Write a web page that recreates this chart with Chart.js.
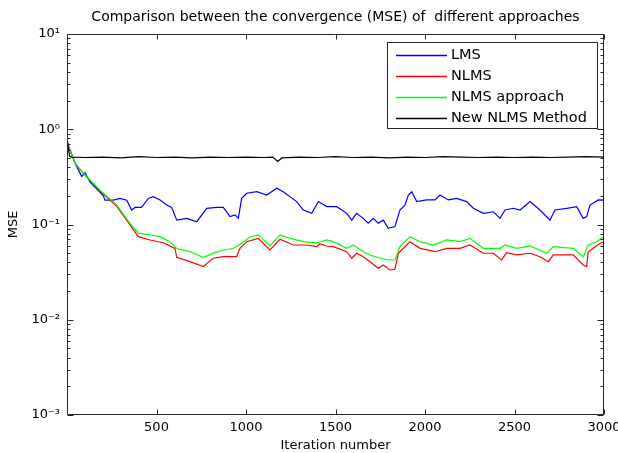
<!DOCTYPE html>
<html>
<head>
<meta charset="utf-8">
<script src="https://cdn.jsdelivr.net/npm/chart.js@4/dist/chart.umd.min.js"></script>
<style>
  html, body { margin: 0; padding: 0; background: #ffffff; }
  #wrap { width: 618px; height: 453px; }
</style>
</head>
<body>
<div id="wrap"><canvas id="c" width="618" height="453"></canvas></div>
<script>
// ---- data ----
const chartTitle = 'Comparison between the convergence (MSE) of  different approaches';
const xTitle = 'Iteration number';
const yTitle = 'MSE';
const seriesNames = ['LMS', 'NLMS', 'NLMS approach', 'New NLMS Method'];
const xTicks = [500, 1000, 1500, 2000, 2500, 3000];
const xTickLabels = ['500', '1000', '1500', '2000', '2500', '3000'];
const yTicks = [0.001, 0.01, 0.1, 1, 10];
const yTickLabels = ['10\u207B\u00B3', '10\u207B\u00B2', '10\u207B\u00B9', '10\u2070', '10\u00B9'];

const lmsIter = [1, 7, 45, 82, 101, 128, 203, 212, 259, 296, 334, 361, 380, 417, 454, 482, 520, 557, 585, 613, 669, 725, 780, 836, 873, 911, 939, 957, 976, 1004, 1060, 1116, 1172, 1208, 1283, 1320, 1367, 1404, 1451, 1507, 1563, 1591, 1618, 1655, 1683, 1711, 1739, 1767, 1795, 1832, 1860, 1888, 1907, 1926, 1954, 2010, 2056, 2084, 2130, 2177, 2233, 2270, 2326, 2382, 2419, 2447, 2493, 2531, 2587, 2642, 2698, 2726, 2792, 2847, 2884, 2903, 2922, 2968, 3000];
const lmsMSE  = [0.74, 0.68, 0.44, 0.32, 0.35, 0.28, 0.20, 0.18, 0.18, 0.188, 0.18, 0.142, 0.151, 0.151, 0.188, 0.196, 0.181, 0.16, 0.151, 0.111, 0.116, 0.107, 0.148, 0.151, 0.151, 0.121, 0.126, 0.116, 0.188, 0.213, 0.221, 0.204, 0.24, 0.221, 0.174, 0.142, 0.131, 0.174, 0.154, 0.154, 0.131, 0.111, 0.131, 0.116, 0.103, 0.116, 0.103, 0.111, 0.091, 0.095, 0.142, 0.16, 0.204, 0.221, 0.174, 0.181, 0.181, 0.204, 0.181, 0.188, 0.174, 0.148, 0.131, 0.136, 0.116, 0.142, 0.148, 0.142, 0.174, 0.142, 0.111, 0.142, 0.148, 0.154, 0.116, 0.121, 0.16, 0.181, 0.18];

const nlmsIter = [1, 7, 45, 91, 184, 278, 352, 398, 464, 538, 603, 613, 687, 761, 817, 873, 948, 966, 1004, 1069, 1134, 1190, 1264, 1339, 1395, 1413, 1451, 1488, 1563, 1591, 1618, 1655, 1693, 1739, 1767, 1804, 1832, 1851, 1898, 1916, 1972, 2056, 2121, 2196, 2251, 2326, 2382, 2428, 2456, 2512, 2587, 2642, 2689, 2717, 2828, 2884, 2903, 2912, 2978, 3000];
const nlmsMSE  = [0.74, 0.68, 0.44, 0.345, 0.225, 0.155, 0.099, 0.0745, 0.0688, 0.0644, 0.0562, 0.0453, 0.0407, 0.0361, 0.0442, 0.0459, 0.0459, 0.0562, 0.066, 0.0716, 0.054, 0.07, 0.0609, 0.0609, 0.0585, 0.0624, 0.0595, 0.0585, 0.0518, 0.0442, 0.0499, 0.0459, 0.0407, 0.0347, 0.0376, 0.0333, 0.0339, 0.0499, 0.0609, 0.066, 0.0562, 0.0518, 0.0562, 0.0562, 0.0609, 0.0499, 0.0499, 0.0424, 0.0506, 0.0479, 0.0499, 0.0459, 0.0407, 0.0479, 0.0479, 0.0376, 0.0361, 0.0518, 0.0635, 0.066];

const apprIter = [1, 7, 45, 91, 184, 278, 352, 398, 464, 520, 575, 613, 687, 761, 817, 873, 929, 976, 1022, 1069, 1134, 1190, 1246, 1320, 1395, 1451, 1488, 1563, 1600, 1655, 1693, 1749, 1795, 1832, 1860, 1916, 1972, 2046, 2121, 2196, 2251, 2326, 2419, 2447, 2512, 2587, 2680, 2717, 2828, 2884, 2912, 2959, 3000];
const apprMSE  = [0.74, 0.68, 0.44, 0.345, 0.23, 0.16, 0.103, 0.081, 0.078, 0.0745, 0.066, 0.056, 0.052, 0.045, 0.05, 0.054, 0.056, 0.0635, 0.074, 0.0777, 0.0595, 0.0777, 0.0716, 0.066, 0.064, 0.0688, 0.066, 0.0562, 0.0609, 0.0518, 0.0479, 0.0442, 0.0424, 0.0424, 0.0585, 0.0745, 0.066, 0.0609, 0.0688, 0.066, 0.0716, 0.0562, 0.0562, 0.0609, 0.0562, 0.0595, 0.0499, 0.0585, 0.0562, 0.0459, 0.0609, 0.066, 0.0745];

const newIter = [1, 8, 15, 25, 100, 200, 300, 400, 500, 600, 700, 800, 900, 1000, 1100, 1150, 1177, 1200, 1300, 1400, 1500, 1600, 1700, 1800, 1900, 2000, 2100, 2200, 2300, 2400, 2500, 2600, 2700, 2800, 2900, 3000];
const newMSE  = [0.78, 0.62, 0.52, 0.51, 0.505, 0.51, 0.50, 0.515, 0.505, 0.51, 0.50, 0.51, 0.505, 0.51, 0.505, 0.51, 0.46, 0.50, 0.51, 0.505, 0.515, 0.505, 0.51, 0.50, 0.51, 0.505, 0.515, 0.51, 0.505, 0.51, 0.505, 0.51, 0.505, 0.51, 0.515, 0.51];

const seriesColors = ['#0000ff', '#ff0000', '#00ff00', '#000000'];

// ---- build ----
function pts(xs, ys) { return xs.map((x, i) => ({ x: x, y: ys[i] })); }
const FONT = 'DejaVu Sans';
Chart.defaults.font.family = FONT;
Chart.defaults.color = '#000';

const axisColor = '#262626';

const boxTicks = {
  id: 'boxTicks',
  afterDatasetsDraw(chart) {
    const ctx = chart.ctx, a = chart.chartArea;
    const xs = chart.scales.x, ys = chart.scales.y;
    ctx.save();
    ctx.strokeStyle = axisColor;
    ctx.lineWidth = 1;
    const L = Math.round(a.left) + 0.5, R = Math.round(a.right) - 0.5;
    const T = Math.round(a.top) + 0.5, B = Math.round(a.bottom) - 0.5;
    ctx.beginPath();
    ctx.rect(L, T, R - L, B - T);
    xTicks.forEach(v => {
      const px = Math.round(xs.getPixelForValue(v)) + 0.5;
      ctx.moveTo(px, B); ctx.lineTo(px, B - 5);
      ctx.moveTo(px, T); ctx.lineTo(px, T + 5);
    });
    for (let d = -3; d <= 1; d++) {
      for (let m = 1; m <= 9; m++) {
        const v = m * Math.pow(10, d);
        if (v > 10.0001) break;
        const py = Math.round(ys.getPixelForValue(v)) + 0.5;
        const len = m === 1 ? 6 : 3;
        ctx.moveTo(L, py); ctx.lineTo(L + len, py);
        ctx.moveTo(R, py); ctx.lineTo(R - len, py);
      }
    }
    ctx.stroke();

    // legend box
    const lx = 387.5, ly = 42.5, lw = 210, lh = 86;
    ctx.fillStyle = '#ffffff';
    ctx.fillRect(lx, ly, lw, lh);
    ctx.strokeStyle = axisColor;
    ctx.strokeRect(lx, ly, lw, lh);
    ctx.font = '14.5px "' + FONT + '"';
    ctx.textBaseline = 'middle';
    ctx.textAlign = 'left';
    chart.data.datasets.forEach((ds, i) => {
      const y = Math.round(55 + i * 21) + 0.5;
      ctx.strokeStyle = seriesColors[i];
      ctx.lineWidth = 1.4;
      ctx.beginPath();
      ctx.moveTo(396, y); ctx.lineTo(447, y);
      ctx.stroke();
      ctx.fillStyle = '#000';
      ctx.fillText(ds.label, 451, y);
    });
    ctx.restore();
  }
};

const datasets = [
  { label: seriesNames[0], data: pts(lmsIter, lmsMSE), borderColor: seriesColors[0], order: 3 },
  { label: seriesNames[1], data: pts(nlmsIter, nlmsMSE), borderColor: seriesColors[1], order: 2 },
  { label: seriesNames[2], data: pts(apprIter, apprMSE), borderColor: seriesColors[2], order: 1 },
  { label: seriesNames[3], data: pts(newIter, newMSE), borderColor: seriesColors[3], order: 0 }
].map(d => Object.assign(d, { borderWidth: 1.2, pointRadius: 0, fill: false, tension: 0 }));

new Chart(document.getElementById('c'), {
  type: 'line',
  data: { datasets: datasets },
  plugins: [boxTicks],
  options: {
    responsive: false,
    devicePixelRatio: 1,
    animation: false,
    events: [],
    layout: { padding: { left: 0, right: 14, top: 0, bottom: 0 } },
    plugins: {
      legend: { display: false },
      tooltip: { enabled: false },
      title: {
        display: true,
        fullSize: false,
        text: chartTitle,
        color: '#000',
        font: { family: FONT, size: 14, weight: 'normal', lineHeight: 1.2 },
        padding: { top: 9, bottom: 8.2 }
      }
    },
    scales: {
      x: {
        type: 'linear',
        min: 0, max: 3000,
        afterBuildTicks: s => { s.ticks = xTicks.map(v => ({ value: v })); },
        afterFit: s => { s.height = 38; s.paddingRight = 0; s.paddingLeft = 0; },
        grid: { display: false, drawTicks: false },
        border: { display: false },
        ticks: { font: { size: 13 }, color: '#000', padding: 5, maxRotation: 0, autoSkip: false,
                 callback: (v, i) => xTickLabels[i] },
        title: { display: true, text: xTitle, font: { size: 13 }, color: '#000', padding: { top: 0, bottom: 0 } }
      },
      y: {
        type: 'logarithmic',
        min: 0.001, max: 10,
        afterBuildTicks: s => { s.ticks = yTicks.map(v => ({ value: v })); },
        afterFit: s => { s.width = 67; },
        grid: { display: false, drawTicks: false },
        border: { display: false },
        ticks: { font: { size: 13 }, color: '#000', padding: 7, autoSkip: false,
                 callback: (v, i) => yTickLabels[i] },
        title: { display: true, text: yTitle, font: { size: 13 }, color: '#000', padding: { top: 6, bottom: 0 } }
      }
    }
  }
});
</script>
</body>
</html>
